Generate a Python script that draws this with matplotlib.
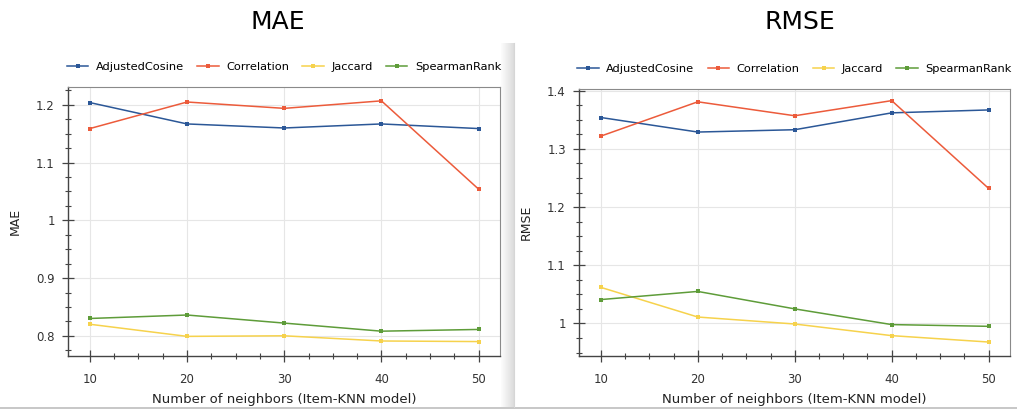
import matplotlib
matplotlib.use("Agg")
import matplotlib.pyplot as plt
import numpy as np
from matplotlib.ticker import MultipleLocator, FuncFormatter
from matplotlib.lines import Line2D

neighbors = [10, 20, 30, 40, 50]
series_names = ["AdjustedCosine", "Correlation", "Jaccard", "SpearmanRank"]
colors = ["#2b5797", "#ec5b3b", "#f6d24c", "#5e9c39"]

mae_adjusted = [1.204, 1.167, 1.160, 1.167, 1.159]
mae_correlation = [1.159, 1.205, 1.194, 1.207, 1.054]
mae_jaccard = [0.820, 0.799, 0.800, 0.791, 0.790]
mae_spearman = [0.830, 0.836, 0.822, 0.808, 0.811]

rmse_adjusted = [1.354, 1.329, 1.333, 1.362, 1.367]
rmse_correlation = [1.322, 1.381, 1.357, 1.383, 1.232]
rmse_jaccard = [1.062, 1.011, 0.999, 0.979, 0.968]
rmse_spearman = [1.041, 1.055, 1.025, 0.998, 0.995]

W, H = 1017, 411
fig = plt.figure(figsize=(W / 100, H / 100), dpi=100)
fig.patch.set_facecolor("white")

# window shadow strip and bottom line (screenshot framing)
grad = np.linspace(0.99, 0.86, 40).reshape(1, -1)
ax_bg = fig.add_axes([501 / W, (H - 407) / H, 13 / W, (407 - 43) / H])
ax_bg.imshow(grad, aspect="auto", cmap="gray", vmin=0, vmax=1, extent=[0, 1, 0, 1])
ax_bg.axis("off")
fig.add_artist(Line2D([0, 1], [(H - 407.5) / H] * 2, color="#bdbdbd", lw=1.2))
fig.add_artist(Line2D([514 / W, 514 / W], [(H - 407) / H, (H - 43) / H], color="#d6d6d6", lw=0.8))

def fmt(v, pos):
    s = f"{v:.1f}"
    if s.endswith(".0"):
        s = s[:-2]
    return s

def draw(rect, data, ylim, ylabel, title, title_x):
    ax = fig.add_axes(rect)
    for vals, name, c in zip(data, series_names, colors):
        ax.plot(neighbors, vals, color=c, lw=1.1, marker="s", ms=2.6,
                markeredgewidth=0, label=name)
    ax.set_xlim(7.75, 52.2)
    ax.set_ylim(*ylim)
    ax.xaxis.set_major_locator(MultipleLocator(10))
    ax.xaxis.set_minor_locator(MultipleLocator(2.5))
    ax.yaxis.set_major_locator(MultipleLocator(0.1))
    ax.yaxis.set_minor_locator(MultipleLocator(0.025))
    ax.yaxis.set_major_formatter(FuncFormatter(fmt))
    ax.grid(True, which="major", color="#e6e6e6", lw=0.8)
    ax.set_axisbelow(True)
    for s in ["top", "right"]:
        ax.spines[s].set_color("#8a8a8a")
        ax.spines[s].set_linewidth(0.8)
    for s in ["left", "bottom"]:
        ax.spines[s].set_color("#444444")
        ax.spines[s].set_linewidth(1.0)
    ax.tick_params(axis="both", which="major", direction="inout", length=9,
                   width=0.9, color="#444444", labelsize=8.5, labelcolor="#333333")
    ax.tick_params(axis="both", which="minor", direction="inout", length=5,
                   width=0.8, color="#444444")
    ax.tick_params(axis="x", which="major", pad=8)
    ax.tick_params(axis="y", which="major", pad=5)
    ax.set_xlabel("Number of neighbors (Item-KNN model)", fontsize=9.5,
                  color="#222222", labelpad=5)
    ax.set_ylabel(ylabel, fontsize=9, color="#222222", labelpad=10)
    ax.legend(loc="lower center", bbox_to_anchor=(0.5, 1.055), ncol=4,
              frameon=False, fontsize=8.2, handlelength=1.9,
              columnspacing=1.15, handletextpad=0.65, borderaxespad=0,
              borderpad=0)
    fig.text(title_x, (H - 22) / H, title, ha="center", va="center",
             fontsize=18, family=["Liberation Sans Narrow", "DejaVu Sans"])
    return ax

ax1 = draw([68 / W, (H - 356) / H, 432 / W, 269 / H],
           [mae_adjusted, mae_correlation, mae_jaccard, mae_spearman],
           (0.765, 1.231), "MAE", "MAE", 278 / W)
ax2 = draw([579 / W, (H - 356) / H, 431 / W, 267 / H],
           [rmse_adjusted, rmse_correlation, rmse_jaccard, rmse_spearman],
           (0.944, 1.403), "RMSE", "RMSE", 800 / W)

fig.savefig("out.png", dpi=100)
